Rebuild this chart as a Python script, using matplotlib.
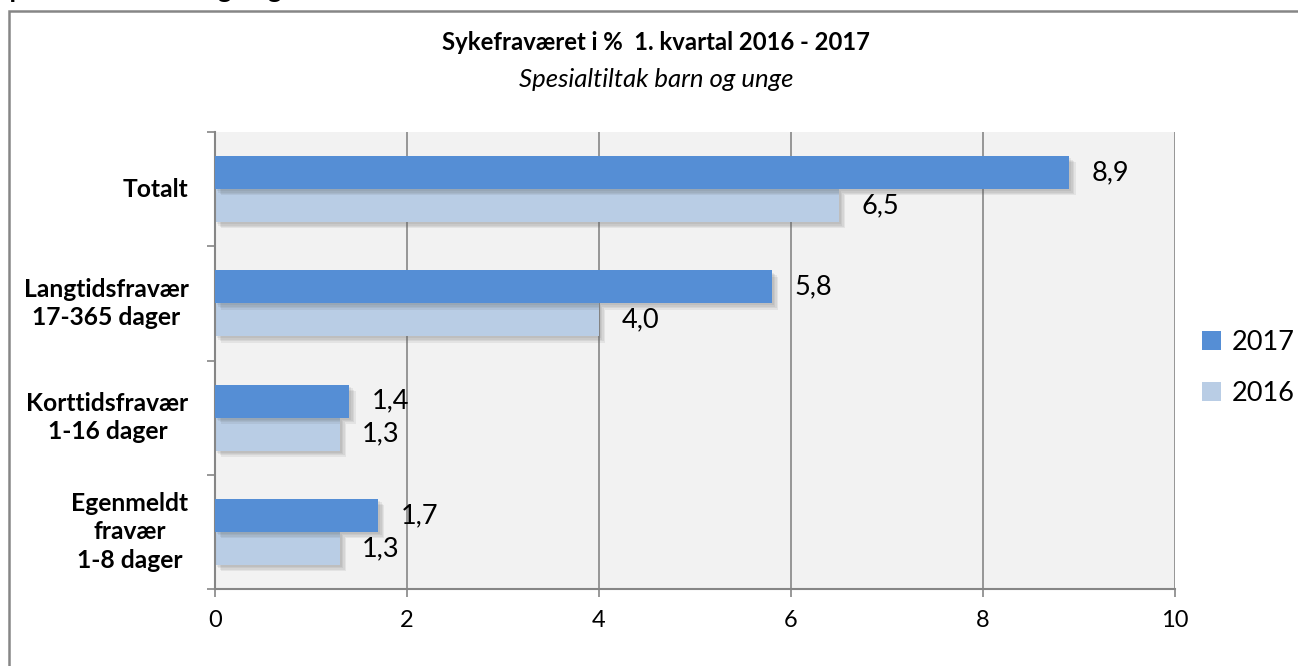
import matplotlib
matplotlib.use("Agg")
import matplotlib.pyplot as plt
import matplotlib.patheffects as pe
from matplotlib.patches import Patch, Rectangle
import numpy as np

plt.rcParams['font.family'] = ['Lato', 'DejaVu Sans']

# data
categories = ["Totalt", "Langtidsfravær\n17-365 dager", "Korttidsfravær\n1-16 dager",
              "Egenmeldt\nfravær\n1-8 dager"]
values_2017 = [8.9, 5.8, 1.4, 1.7]
values_2016 = [6.5, 4.0, 1.3, 1.3]
series_names = ["2017", "2016"]
xticks = [0, 2, 4, 6, 8, 10]

c2017 = "#558ED5"
c2016 = "#B9CDE5"
grey = "#868686"

W, H = 1298, 666
fig = plt.figure(figsize=(W / 100, H / 100), dpi=100)
fig.patch.set_facecolor("white")

# outer chart border (only top and left visible in the crop)
fig.patches.append(Rectangle((8.5 / W, -0.5), 1.5, 1.5 - 10.5 / H, transform=fig.transFigure,
                             fill=False, edgecolor=grey, linewidth=1.8, zorder=0))

# clipped heading above the chart
fig.text(-0.004, 1 + 2 / H, "Spesialtiltak barn og unge", fontsize=19, fontweight="bold",
         ha="left", va="baseline", color="black")

ax = fig.add_axes([215 / W, (H - 589) / H, (1175 - 215) / W, (589 - 132) / H])
ax.set_facecolor("#F2F2F2")

n = len(categories)
ypos = np.arange(n)[::-1].astype(float)
h = 0.288

# soft drop shadow: a few stacked, offset, faint copies
shadow = [pe.SimplePatchShadow(offset=(k, -k), shadow_rgbFace="#606060", alpha=0.10)
          for k in (4.5, 3.5, 2.5, 1.5)] + [pe.Normal()]
b17 = ax.barh(ypos + h / 2, values_2017, height=h, color=c2017, label=series_names[0], zorder=3)
b16 = ax.barh(ypos - h / 2, values_2016, height=h, color=c2016, label=series_names[1], zorder=2)
for b in list(b17) + list(b16):
    b.set_path_effects(shadow)

def fmt(v):
    return f"{v:.1f}".replace(".", ",")

for bars, vals in ((b17, values_2017), (b16, values_2016)):
    for bar, v in zip(bars, vals):
        ax.annotate(fmt(v), xy=(v, bar.get_y() + bar.get_height() / 2), xytext=(16, 0),
                    textcoords="offset points", ha="left", va="center", fontsize=19.5, zorder=5)

ax.set_xlim(0, 10)
ax.set_ylim(-0.5, n - 0.5)
ax.set_xticks(xticks)
ax.set_xticklabels([str(t) for t in xticks], fontsize=17)
ax.xaxis.grid(True, color=grey, linewidth=1.2, zorder=1)
ax.set_axisbelow(True)
ax.tick_params(axis="x", length=6, width=1.2, color=grey, pad=9)

# category boundaries as ticks, labels placed separately
ax.set_yticks(np.arange(-0.5, n, 1.0))
ax.set_yticklabels([])
ax.tick_params(axis="y", length=6, width=1.2, color=grey)
for y, lab in zip(ypos, categories):
    ax.annotate(lab, xy=(0, y), xycoords=("axes fraction", "data"), xytext=(-19, 0),
                textcoords="offset points", ha="right", va="center", multialignment="center",
                fontsize=17.7, fontweight="bold", linespacing=1.3, annotation_clip=False)

for s in ("top", "right"):
    ax.spines[s].set_visible(False)
for s in ("left", "bottom"):
    ax.spines[s].set_color(grey)
    ax.spines[s].set_linewidth(1.5)

fig.text(656 / W, 1 - 50 / H, "Sykefraværet i %  1. kvartal 2016 - 2017", fontsize=17.2,
         fontweight="bold", ha="center", va="baseline")
fig.text(656 / W, 1 - 87 / H, "Spesialtiltak barn og unge", fontsize=18.5, style="italic",
         ha="center", va="baseline")

handles = [Patch(facecolor=c2017), Patch(facecolor=c2016)]
fig.legend(handles, series_names, loc="center left", bbox_to_anchor=(1202 / W, 1 - 368 / H),
           frameon=False, fontsize=19.5, handlelength=0.7, handleheight=0.7, handletextpad=0.4,
           labelspacing=0.95, borderpad=0, borderaxespad=0)

fig.savefig("out.png", dpi=100, facecolor="white")
